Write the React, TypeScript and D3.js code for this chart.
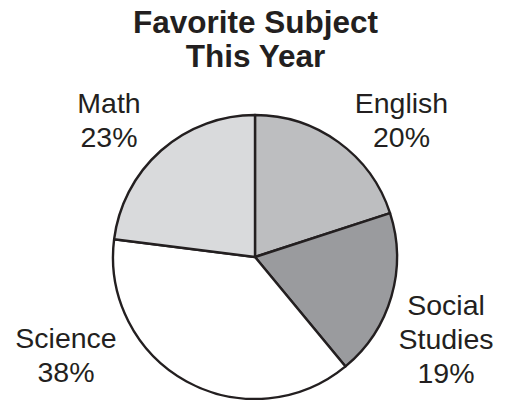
import React from "react";
import * as d3 from "d3";

const subjects = ["English", "Social Studies", "Science", "Math"];
const percents = [20, 19, 38, 23];
const labelLines = [["English", "20%"], ["Social", "Studies", "19%"], ["Science", "38%"], ["Math", "23%"]];
const titleLines = ["Favorite Subject", "This Year"];

const fills = ["#bdbec0", "#9a9b9e", "#ffffff", "#d9dadc"];
// label anchor (center x, first baseline y) layout
const labelAnchors: [number, number][] = [[401.5, 113], [446, 315], [66, 348], [109, 113]];

export default function App() {
  const W = 505, H = 400;
  const cx = 255, cy = 257, r = 142;
  const pie = d3.pie<number>().value((d) => d).sort(null).startAngle(0).endAngle(2 * Math.PI);
  const arcs = pie(percents);
  const arc = d3.arc<d3.PieArcDatum<number>>().innerRadius(0).outerRadius(r);
  const font = "'Liberation Sans', Arial, Helvetica, sans-serif";
  return (
    <svg width={W} height={H} style={{ position: "absolute", left: 0, top: 0, background: "#fff" }}>
      <g fontFamily={font} fill="#231f20" textAnchor="middle">
        {titleLines.map((t, i) => (
          <text key={t} x={255.5} y={33 + i * 34} fontSize={31.5} fontWeight="bold">{t}</text>
        ))}
      </g>
      <g transform={`translate(${cx},${cy})`}>
        {arcs.map((a, i) => (
          <path key={subjects[i]} d={arc(a) || ""} fill={fills[i]} stroke="#231f20" strokeWidth={2.4} strokeLinejoin="round" />
        ))}
      </g>
      <g fontFamily={font} fill="#231f20" textAnchor="middle" fontSize={28.5}>
        {labelLines.map((lines, i) =>
          lines.map((ln, j) => (
            <text key={subjects[i] + j} x={labelAnchors[i][0]} y={labelAnchors[i][1] + j * 34}>{ln}</text>
          ))
        )}
      </g>
    </svg>
  );
}
